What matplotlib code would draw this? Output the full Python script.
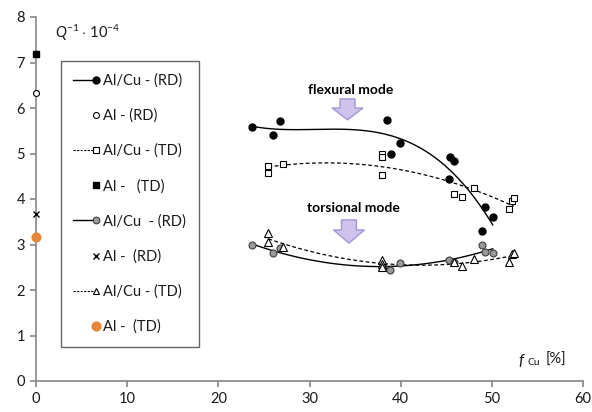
import numpy as np
import matplotlib
matplotlib.use("Agg")
import matplotlib.pyplot as plt
from matplotlib.legend_handler import HandlerLine2DCompound
from matplotlib.lines import Line2D
from matplotlib.patches import Polygon

plt.rcParams['font.family'] = ['Lato', 'DejaVu Sans']
plt.rcParams['mathtext.fontset'] = 'custom'
plt.rcParams['mathtext.rm'] = 'Lato'
plt.rcParams['mathtext.it'] = 'Lato:italic'

# Flexural mode, Al/Cu (RD)
flex_rd_x = [23.7, 25.95, 26.75, 38.45, 38.9, 39.9, 45.3, 45.4, 45.8, 48.9, 49.2, 50.1]
flex_rd_y = [5.58, 5.41, 5.71, 5.74, 5.00, 5.24, 4.45, 4.92, 4.83, 3.30, 3.82, 3.61]
# Flexural mode, Al/Cu (TD)
flex_td_x = [25.5, 25.5, 27.05, 37.9, 37.9, 37.9, 45.8, 46.75, 48.0, 51.9, 52.2, 52.4]
flex_td_y = [4.73, 4.58, 4.78, 4.99, 4.92, 4.53, 4.12, 4.05, 4.25, 3.79, 3.96, 4.02]
# Torsional mode, Al/Cu (RD)
tors_rd_x = [23.7, 25.95, 26.75, 38.1, 38.8, 39.9, 45.3, 45.8, 48.9, 49.2, 50.1]
tors_rd_y = [2.98, 2.81, 2.93, 2.51, 2.44, 2.59, 2.66, 2.62, 3.00, 2.84, 2.81]
# Torsional mode, Al/Cu (TD)
tors_td_x = [25.5, 25.5, 27.05, 37.9, 37.9, 37.9, 45.8, 46.75, 48.0, 51.9, 52.2, 52.4]
tors_td_y = [3.25, 3.06, 2.95, 2.66, 2.57, 2.51, 2.62, 2.53, 2.68, 2.61, 2.79, 2.81]
# Pure Al references at f_Cu = 0
al_flex_rd = 6.32
al_flex_td = 7.18
al_tors_rd = 3.66
al_tors_td = 3.17

labels = ['Al/Cu - (RD)', 'Al - (RD)', 'Al/Cu - (TD)', 'Al -   (TD)',
          'Al/Cu  - (RD)', 'Al -  (RD)', 'Al/Cu - (TD)', 'Al -  (TD)']

fig = plt.figure(figsize=(5.92, 4.12), dpi=100)
ax = fig.add_axes([36/592, 31/412, 547/592, 364/412])

def trend(xs, ys, deg=3):
    c = np.polyfit(xs, ys, deg)
    xx = np.linspace(min(xs), max(xs), 200)
    return xx, np.polyval(c, xx)

gray = '#999999'
orange = '#E8873A'

# trendlines
xx, yy = trend(flex_rd_x, flex_rd_y, 3)
ax.plot(xx, yy, '-', color='black', lw=1.0, zorder=2)
xx, yy = trend(flex_td_x, flex_td_y, 2)
ax.plot(xx, yy, '--', color='black', lw=0.9, dashes=(3, 2), zorder=2)
xx, yy = trend(tors_rd_x, tors_rd_y, 2)
ax.plot(xx, yy, '-', color='black', lw=1.0, zorder=2)
xx, yy = trend(tors_td_x, tors_td_y, 2)
ax.plot(xx, yy, '--', color='black', lw=0.9, dashes=(3, 2), zorder=2)

# markers
ax.plot(flex_rd_x, flex_rd_y, 'o', ms=5, mfc='black', mec='black', zorder=3)
ax.plot(flex_td_x, flex_td_y, 's', ms=4.3, mfc='white', mec='black', mew=0.8, zorder=3)
ax.plot(tors_rd_x, tors_rd_y, 'o', ms=5, mfc=gray, mec='#404040', mew=0.8, zorder=3)
ax.plot(tors_td_x, tors_td_y, '^', ms=5.2, mfc='white', mec='black', mew=0.8, zorder=3)
ax.plot([0], [al_flex_rd], 'o', ms=4.3, mfc='white', mec='black', mew=0.8, zorder=4, clip_on=False)
ax.plot([0], [al_flex_td], 's', ms=4.8, mfc='black', mec='black', zorder=4, clip_on=False)
ax.plot([0], [al_tors_rd], 'x', ms=4.3, color='black', mew=1.0, zorder=4, clip_on=False)
ax.plot([0], [al_tors_td], 'o', ms=6.3, mfc=orange, mec=orange, zorder=4, clip_on=False)

# axes styling
ax.set_xlim(0, 60)
ax.set_ylim(0, 8)
ax.set_xticks(np.arange(0, 61, 10))
ax.set_yticks(np.arange(0, 9, 1))
for s in ['top', 'right']:
    ax.spines[s].set_visible(False)
for s in ['left', 'bottom']:
    ax.spines[s].set_color('#868686')
    ax.spines[s].set_linewidth(1.2)
ax.tick_params(direction='out', length=4, width=1.2, color='#868686',
               labelsize=10.5, labelcolor='#1a1a1a', pad=4)

ax.text(2.1, 7.65, r'$\mathit{Q}^{\mathit{-1}}\cdot\,10^{-4}$', fontsize=10.5,
        va='center', ha='left', color='#1a1a1a')
ax.text(52.9, 0.46, r'$\mathit{f}$', fontsize=11.5, ha='left', va='center', color='#1a1a1a')
ax.text(53.9, 0.40, 'Cu', fontsize=7.5, ha='left', va='center', color='#1a1a1a')
ax.text(55.9, 0.46, '[%]', fontsize=10.5, ha='left', va='center', color='#1a1a1a')

# annotations
ax.text(34.5, 6.40, 'flexural mode', fontsize=10, fontweight='bold', ha='center', va='center')
ax.text(34.8, 3.80, 'torsional mode', fontsize=10, fontweight='bold', ha='center', va='center')

def block_arrow(xc, ytop, yhead, ytip, hb=0.82, hh=1.70):
    pts = [(xc - hb, ytop), (xc + hb, ytop), (xc + hb, yhead), (xc + hh, yhead),
           (xc, ytip), (xc - hh, yhead), (xc - hb, yhead)]
    ax.add_patch(Polygon(pts, closed=True, facecolor='#CFC2EC', edgecolor='#A596D6',
                         lw=1.0, zorder=3))

block_arrow(34.17, 6.20, 6.00, 5.74)
block_arrow(34.33, 3.54, 3.32, 3.03)

# legend
class RightMarker(HandlerLine2DCompound):
    def create_artists(self, legend, orig_handle, xdescent, ydescent, width,
                       height, fontsize, trans):
        arts = super().create_artists(legend, orig_handle, xdescent, ydescent,
                                      width, height, fontsize, trans)
        marker = arts[-1]
        y = marker.get_ydata()
        marker.set_data([width - xdescent - 1.5], y)
        return arts

handles = [
    Line2D([], [], ls='-', color='black', lw=1.0, marker='o', ms=5, mfc='black', mec='black'),
    Line2D([], [], ls='none', marker='o', ms=4.3, mfc='white', mec='black', mew=0.8),
    Line2D([], [], ls='--', dashes=(2, 1.2), color='black', lw=0.8, marker='s', ms=4, mfc='white', mec='black', mew=0.8),
    Line2D([], [], ls='none', marker='s', ms=4.8, mfc='black', mec='black'),
    Line2D([], [], ls='-', color='black', lw=1.0, marker='o', ms=4.8, mfc=gray, mec='#404040', mew=0.8),
    Line2D([], [], ls='none', marker='x', ms=4.3, color='black', mew=1.0),
    Line2D([], [], ls='--', dashes=(2, 1.2), color='black', lw=0.8, marker='^', ms=5, mfc='white', mec='black', mew=0.8),
    Line2D([], [], ls='none', marker='o', ms=6.3, mfc=orange, mec=orange),
]
leg = ax.legend(handles, labels, loc='upper left', bbox_to_anchor=(0.0457, 0.879),
                fontsize=10.5, frameon=True, fancybox=False, handlelength=1.7,
                handletextpad=0.35, labelspacing=1.43, borderpad=0.85, borderaxespad=0,
                numpoints=1, handler_map={Line2D: RightMarker()})
leg.get_frame().set_edgecolor('#404040')
leg.get_frame().set_linewidth(1.0)
for t in leg.get_texts():
    t.set_color('#1a1a1a')

fig.savefig('out.png', dpi=100)
